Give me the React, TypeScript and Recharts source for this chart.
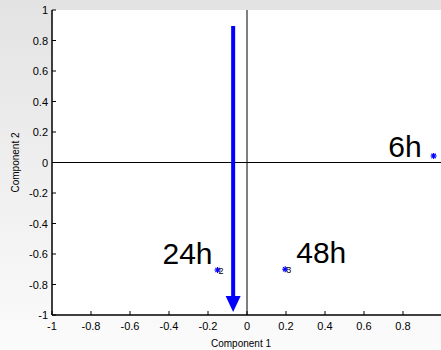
import React from 'react';
import { ScatterChart, Scatter, XAxis, YAxis, ReferenceLine, CartesianGrid, Label } from 'recharts';

// scores of the three samples on the first two components
const sampleIds = ['1', '2', '3'];
const timeLabels = ['6h', '24h', '48h'];
const component1 = [0.957, -0.151, 0.196];
const component2 = [0.043, -0.705, -0.7];

// single loading vector
const vectorStart = { x: -0.071, y: 0.895 };
const vectorEnd = { x: -0.071, y: -0.98 };

const axisTicks = [-1, -0.8, -0.6, -0.4, -0.2, 0, 0.2, 0.4, 0.6, 0.8, 1];

const points = sampleIds.map((id, i) => ({
  id,
  time: timeLabels[i],
  x: component1[i],
  y: component2[i],
}));

// where the big time label sits relative to its marker
const timeLabelOffset: Record<string, { dx: number; dy: number; anchor: 'start' | 'end' }> = {
  '6h': { dx: -12, dy: 1, anchor: 'end' },
  '24h': { dx: -5, dy: -6, anchor: 'end' },
  '48h': { dx: 11, dy: -6, anchor: 'start' },
};

const FONT = '"Liberation Sans", Arial, Helvetica, sans-serif';
const BLUE = '#0000ff';
const TICK = 4;
const VIEW_W = 441; // the figure is clipped here, a bit short of the axes' right edge

const BottomTick = ({ x, y, payload }: any) => (
  <g>
    <line x1={x} y1={y} x2={x} y2={y - TICK} stroke="#000" />
    {x + 4 < VIEW_W && (
      <text x={x} y={y + 15} textAnchor="middle" fontSize={11} fontFamily={FONT} fill="#000">
        {String(payload.value)}
      </text>
    )}
  </g>
);

const LeftTick = ({ x, y, payload }: any) => (
  <g>
    <line x1={x} y1={y} x2={x + TICK} y2={y} stroke="#000" />
    <text x={x - 4} y={y + 4} textAnchor="end" fontSize={11} fontFamily={FONT} fill="#000">
      {String(payload.value)}
    </text>
  </g>
);

const TopTick = ({ x, y }: any) => <line x1={x} y1={y} x2={x} y2={y + TICK} stroke="#000" />;
const RightTick = ({ x, y }: any) => <line x1={x} y1={y} x2={x - TICK} y2={y} stroke="#000" />;

const SampleMarker = (props: any) => {
  const { cx, cy, payload } = props;
  const r = 3;
  const d = r * 0.72;
  const off = timeLabelOffset[payload.time];
  return (
    <g>
      <g stroke={BLUE} strokeWidth={1.2}>
        <line x1={cx - r} y1={cy} x2={cx + r} y2={cy} />
        <line x1={cx} y1={cy - r} x2={cx} y2={cy + r} />
        <line x1={cx - d} y1={cy - d} x2={cx + d} y2={cy + d} />
        <line x1={cx - d} y1={cy + d} x2={cx + d} y2={cy - d} />
      </g>
      {cx + 8 < VIEW_W && (
        <text x={cx + 1} y={cy + 4} fontSize={9} fontFamily={FONT} fill="#000">
          {payload.id}
        </text>
      )}
      <text
        x={cx + off.dx}
        y={cy + off.dy}
        textAnchor={off.anchor}
        fontSize={30}
        fontFamily={FONT}
        fill="#000"
      >
        {payload.time}
      </text>
    </g>
  );
};

const VectorArrow = (props: any) => {
  const { x1, y1, x2, y2 } = props;
  const head = 16;
  return (
    <g>
      <line x1={x1} y1={y1} x2={x2} y2={y2 - head} stroke={BLUE} strokeWidth={4} />
      <polygon points={`${x2 - 7.5},${y2 - head} ${x2 + 7.5},${y2 - head} ${x2},${y2}`} fill={BLUE} />
    </g>
  );
};

export default function App() {
  return (
    <div
      style={{
        position: 'absolute',
        left: 0,
        top: 0,
        width: VIEW_W,
        height: 350,
        overflow: 'hidden',
        background: 'linear-gradient(#e3e3e3, #fbfbfb)',
        fontFamily: FONT,
      }}
    >
      <ScatterChart width={450} height={350} margin={{ top: 10, right: 8, bottom: 0, left: 0 }}>
        <CartesianGrid xAxisId="b" yAxisId="l" fill="#fff" horizontal={false} vertical={false} />
        <XAxis
          xAxisId="b"
          type="number"
          dataKey="x"
          domain={[-1, 1]}
          ticks={axisTicks}
          height={35}
          tickSize={0}
          tickMargin={0}
          tick={<BottomTick />}
          axisLine={{ stroke: '#000', strokeWidth: 1.5 }}
          allowDataOverflow
        >
          <Label
            content={({ viewBox }: any) => (
              <text
                x={viewBox.x + viewBox.width / 2 - 6}
                y={viewBox.y + 32}
                textAnchor="middle"
                fontSize={10}
                fontFamily={FONT}
                fill="#000"
              >
                Component 1
              </text>
            )}
          />
        </XAxis>
        <XAxis
          xAxisId="t"
          orientation="top"
          type="number"
          dataKey="x"
          domain={[-1, 1]}
          ticks={axisTicks}
          height={0}
          tickSize={0}
          tickMargin={0}
          tick={<TopTick />}
          axisLine={{ stroke: '#000', strokeWidth: 1.5 }}
          allowDataOverflow
        />
        <YAxis
          yAxisId="l"
          type="number"
          dataKey="y"
          domain={[-1, 1]}
          ticks={axisTicks}
          width={52}
          tickSize={0}
          tickMargin={0}
          tick={<LeftTick />}
          axisLine={{ stroke: '#000', strokeWidth: 1.5 }}
          allowDataOverflow
        >
          <Label
            content={({ viewBox }: any) => {
              const cx = 19;
              const cy = viewBox.y + viewBox.height / 2;
              return (
                <text
                  x={cx}
                  y={cy}
                  transform={`rotate(-90, ${cx}, ${cy})`}
                  textAnchor="middle"
                  fontSize={10}
                  fontFamily={FONT}
                  fill="#000"
                >
                  Component 2
                </text>
              );
            }}
          />
        </YAxis>
        <YAxis
          yAxisId="r"
          orientation="right"
          type="number"
          dataKey="y"
          domain={[-1, 1]}
          ticks={axisTicks}
          width={0}
          tickSize={0}
          tickMargin={0}
          tick={<RightTick />}
          axisLine={{ stroke: '#000', strokeWidth: 1.5 }}
          allowDataOverflow
        />
        <ReferenceLine xAxisId="b" yAxisId="l" x={0} stroke="#000" strokeWidth={1} />
        <ReferenceLine xAxisId="b" yAxisId="l" y={0} stroke="#000" strokeWidth={1} />
        <ReferenceLine
          xAxisId="b"
          yAxisId="l"
          segment={[vectorStart, vectorEnd]}
          shape={<VectorArrow />}
        />
        <Scatter xAxisId="t" yAxisId="r" data={points} shape={() => <g />} isAnimationActive={false} />
        <Scatter xAxisId="b" yAxisId="l" data={points} shape={<SampleMarker />} isAnimationActive={false} />
      </ScatterChart>
    </div>
  );
}
